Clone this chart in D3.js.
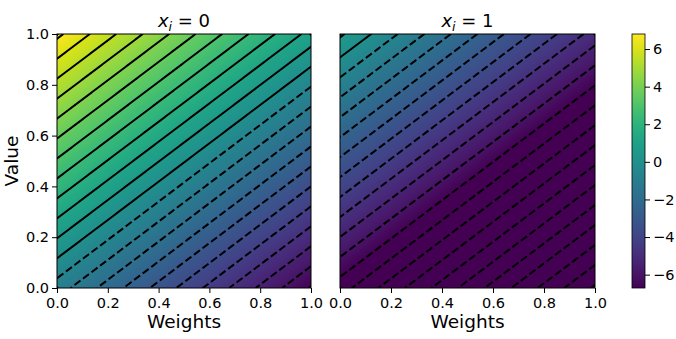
<!DOCTYPE html>
<html>
<head>
<meta charset="utf-8">
<script src="https://cdn.jsdelivr.net/npm/d3@7"></script>
<style>
  body { margin: 0; background: #fff; }
  svg { font-family: "DejaVu Sans", sans-serif; }
</style>
</head>
<body>
<svg id="chart" width="676" height="339"></svg>
<script>
// ---- values ----
const panelTitles = ["0", "1"];                 // x_i of each panel
const xTicks = [0, 0.2, 0.4, 0.6, 0.8, 1.0];
const yTicks = [0, 0.2, 0.4, 0.6, 0.8, 1.0];
const cbarTicks = [-6, -4, -2, 0, 2, 4, 6];
// field value at three corners of each panel (left, right)
const cornerBottomLeft  = [-0.90, -6.99];      // Weights=0, Value=0
const cornerBottomRight = [-6.71, -12.80];     // Weights=1, Value=0
const cornerTopLeft     = [6.80, 0.71];        // Weights=0, Value=1
const colorDomain = [-6.71, 6.80];
const levels = [-12.705, -12.1, -11.495, -10.89, -10.285, -9.68, -9.075, -8.47,
  -7.865, -7.26, -6.655, -6.05, -5.445, -4.84, -4.235, -3.63, -3.025, -2.42,
  -1.815, -1.21, -0.605, 0, 0.605, 1.21, 1.815, 2.42, 3.025, 3.63, 4.235, 4.84,
  5.445, 6.05, 6.655];

// ---- layout ----
const panelX = [[57, 311], [340, 595]];
const yTop = 34, yBottom = 288;
const cbar = { x: 632, w: 13 };
const fontTick = 14.5, fontLabel = 18.5, fontTitle = 18;
const n = 254; // grid resolution

const svg = d3.select("#chart");
const color = d3.scaleSequential(d3.interpolateViridis).domain(colorDomain).clamp(true);
const defs = svg.append("defs");

const field = (p, w, v) =>
  cornerBottomLeft[p] + (cornerBottomRight[p] - cornerBottomLeft[p]) * w +
  (cornerTopLeft[p] - cornerBottomLeft[p]) * v;

// keep only the true isolines of a contour polygon (drop edges on the grid border)
const onBorder = (a, b) =>
  (a[0] === 0 && b[0] === 0) || (a[0] === n && b[0] === n) ||
  (a[1] === 0 && b[1] === 0) || (a[1] === n && b[1] === n);

function isolines(geom) {
  const out = [];
  geom.coordinates.forEach(poly => poly.forEach(ring => {
    const m = ring.length - 1;
    let s = 0;
    for (let k = 0; k < m; k++) if (onBorder(ring[k], ring[k + 1])) { s = k; break; }
    let cur = null;
    for (let t = 0; t < m; t++) {
      const a = ring[(s + t) % m], b = ring[(s + t + 1) % m];
      if (onBorder(a, b)) { if (cur) { out.push(cur); cur = null; } }
      else { if (!cur) cur = [a]; cur.push(b); }
    }
    if (cur) out.push(cur);
  }));
  return out;
}

panelTitles.forEach((title, p) => {
  const [x0, x1] = panelX[p];
  const xs = d3.scaleLinear().domain([0, 1]).range([x0, x1]);
  const ys = d3.scaleLinear().domain([0, 1]).range([yBottom, yTop]);

  // grid of values, row j = Value, column i = Weights
  const values = new Float64Array(n * n);
  for (let j = 0; j < n; j++)
    for (let i = 0; i < n; i++)
      values[j * n + i] = field(p, (i + 0.5) / n, (j + 0.5) / n);

  // heatmap as an image
  const canvas = document.createElement("canvas");
  canvas.width = n; canvas.height = n;
  const ctx = canvas.getContext("2d");
  const img = ctx.createImageData(n, n);
  for (let r = 0; r < n; r++)
    for (let i = 0; i < n; i++) {
      const c = d3.rgb(color(values[(n - 1 - r) * n + i]));
      const k = (r * n + i) * 4;
      img.data[k] = c.r; img.data[k + 1] = c.g; img.data[k + 2] = c.b; img.data[k + 3] = 255;
    }
  ctx.putImageData(img, 0, 0);

  const g = svg.append("g");
  g.append("image")
    .attr("x", x0).attr("y", yTop)
    .attr("width", x1 - x0).attr("height", yBottom - yTop)
    .attr("preserveAspectRatio", "none")
    .attr("href", canvas.toDataURL());

  defs.append("clipPath").attr("id", "clip" + p)
    .append("rect").attr("x", x0).attr("y", yTop)
    .attr("width", x1 - x0).attr("height", yBottom - yTop);

  // contour lines, dashed below zero
  const contours = d3.contours().size([n, n]).thresholds(levels)(values);
  const line = d3.line().x(d => xs(d[0] / n)).y(d => ys(d[1] / n));
  const cg = g.append("g").attr("clip-path", `url(#clip${p})`);
  contours.forEach(c => {
    isolines(c).forEach(pts => {
      cg.append("path")
        .attr("d", line(pts))
        .attr("fill", "none")
        .attr("stroke", "#000")
        .attr("stroke-width", 2)
        .attr("stroke-dasharray", c.value < 0 ? "7.5,3.2" : null);
    });
  });

  // spines
  g.append("rect")
    .attr("x", x0).attr("y", yTop)
    .attr("width", x1 - x0).attr("height", yBottom - yTop)
    .attr("fill", "none").attr("stroke", "#000").attr("stroke-width", 1);

  // axes
  const xAxis = g.append("g")
    .attr("transform", `translate(0,${yBottom})`)
    .call(d3.axisBottom(xs).tickValues(xTicks).tickFormat(d3.format(".1f"))
      .tickSize(5).tickPadding(4.5));
  xAxis.select(".domain").remove();
  xAxis.attr("font-size", fontTick).attr("font-family", null);

  if (p === 0) {
    const yAxis = g.append("g")
      .attr("transform", `translate(${x0},0)`)
      .call(d3.axisLeft(ys).tickValues(yTicks).tickFormat(d3.format(".1f"))
        .tickSize(5).tickPadding(3));
    yAxis.select(".domain").remove();
    yAxis.attr("font-size", fontTick).attr("font-family", null);

    g.append("text")
      .attr("transform", `translate(18,${(yTop + yBottom) / 2}) rotate(-90)`)
      .attr("text-anchor", "middle")
      .attr("font-size", fontLabel)
      .text("Value");
  }

  g.append("text")
    .attr("x", (x0 + x1) / 2).attr("y", 328)
    .attr("text-anchor", "middle")
    .attr("font-size", fontLabel)
    .text("Weights");

  // title  x_i = value
  const t = g.append("text")
    .attr("x", (x0 + x1) / 2).attr("y", 27)
    .attr("text-anchor", "middle")
    .attr("font-size", fontTitle);
  t.append("tspan").attr("font-style", "italic").text("x");
  t.append("tspan").attr("font-style", "italic").attr("font-size", "70%").attr("dy", 4).text("i");
  t.append("tspan").attr("dy", -4).text(" = " + title);
});

// ---- colorbar ----
const cy = d3.scaleLinear().domain(colorDomain).range([yBottom, yTop]);
const grad = defs.append("linearGradient").attr("id", "cbar")
  .attr("x1", 0).attr("y1", 1).attr("x2", 0).attr("y2", 0);
d3.range(0, 1.0001, 0.05).forEach(s => {
  grad.append("stop").attr("offset", s)
    .attr("stop-color", color(colorDomain[0] + s * (colorDomain[1] - colorDomain[0])));
});
svg.append("rect")
  .attr("x", cbar.x).attr("y", yTop)
  .attr("width", cbar.w).attr("height", yBottom - yTop)
  .attr("fill", "url(#cbar)")
  .attr("stroke", "#000").attr("stroke-width", 0.8);

const cAxis = svg.append("g")
  .attr("transform", `translate(${cbar.x + cbar.w},0)`)
  .call(d3.axisRight(cy).tickValues(cbarTicks).tickSize(5).tickPadding(3));
cAxis.select(".domain").remove();
cAxis.attr("font-size", fontTick).attr("font-family", null);
</script>
</body>
</html>
